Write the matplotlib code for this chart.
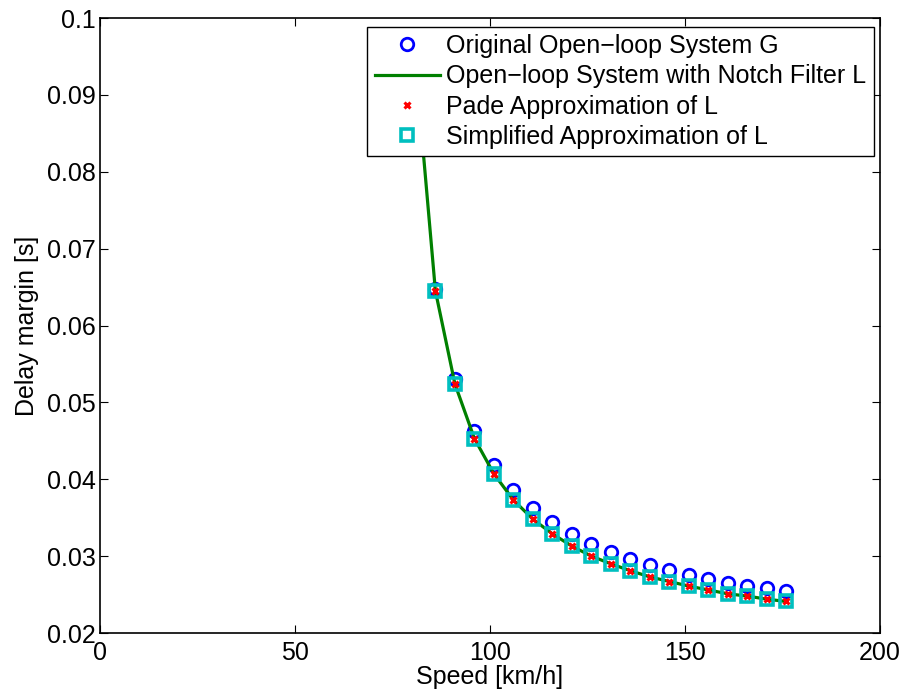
import matplotlib
matplotlib.use("Agg")
import matplotlib.pyplot as plt

plt.rcParams["font.family"] = ["Liberation Sans", "DejaVu Sans"]

# speeds where markers are drawn [km/h]
speed = [86, 91, 96, 101, 106, 111, 116, 121, 126, 131, 136, 141, 146, 151,
         156, 161, 166, 171, 176]

# original open-loop system G
dm_g = [0.0647, 0.0531, 0.0463, 0.0419, 0.0386, 0.0362, 0.0344, 0.0329,
        0.0316, 0.0305, 0.0296, 0.0288, 0.0282, 0.0275, 0.0270, 0.0265,
        0.0261, 0.0258, 0.0255]

# open-loop system with notch filter L (line starts lower, under the legend)
speed_l = [81] + speed
dm_l = [0.0935, 0.0645, 0.0524, 0.0453, 0.0407, 0.0373, 0.0348, 0.0329,
        0.0313, 0.0300, 0.0290, 0.0281, 0.0273, 0.0267, 0.0261, 0.0256,
        0.0251, 0.0248, 0.0244, 0.0241]

# Pade and simplified approximations of L
dm_pade = [0.0645, 0.0524, 0.0453, 0.0407, 0.0373, 0.0348, 0.0329, 0.0313,
           0.0300, 0.0290, 0.0281, 0.0273, 0.0267, 0.0261, 0.0256, 0.0251,
           0.0248, 0.0244, 0.0241]
dm_simp = [0.0645, 0.0524, 0.0453, 0.0407, 0.0373, 0.0348, 0.0329, 0.0313,
           0.0300, 0.0290, 0.0281, 0.0273, 0.0267, 0.0261, 0.0256, 0.0251,
           0.0248, 0.0244, 0.0241]

fig = plt.figure(figsize=(9.05, 6.98), dpi=100)
ax = fig.add_axes([0.1105, 0.0931, 0.8619, 0.8811])

ax.plot(speed, dm_g, "o", color="blue", mfc="none", ms=9, mew=2.0,
        label="Original Open\u2212loop System G", zorder=2)
ax.plot(speed_l, dm_l, "-", color=(0, 0.5, 0), lw=2.3,
        label="Open\u2212loop System with Notch Filter L", zorder=3)
ax.plot(speed, dm_pade, "x", color="red", ms=4, mew=2.2,
        label="Pade Approximation of L", zorder=5)
ax.plot(speed, dm_simp, "s", color=(0, 0.75, 0.75), mfc="none", ms=8, mew=2.6,
        label="Simplified Approximation of L", zorder=4)

ax.set_xlim(0, 200)
ax.set_ylim(0.02, 0.1)
ax.set_xticks([0, 50, 100, 150, 200])
ax.set_yticks([0.02, 0.03, 0.04, 0.05, 0.06, 0.07, 0.08, 0.09, 0.1])
ax.set_yticklabels(["0.02", "0.03", "0.04", "0.05", "0.06", "0.07", "0.08",
                    "0.09", "0.1"])
ax.tick_params(direction="in", top=True, right=True, length=6, width=0.8,
               labelsize=18)
ax.tick_params(axis="x", pad=6)
ax.tick_params(axis="y", pad=3)
for spine in ax.spines.values():
    spine.set_linewidth(1.2)

ax.set_xlabel("Speed [km/h]", fontsize=18, labelpad=0)
ax.set_ylabel("Delay margin [s]", fontsize=18, labelpad=6)

leg = ax.legend(loc="upper right", bbox_to_anchor=(0.992, 0.986), numpoints=1,
                fontsize=18, frameon=True, fancybox=False, framealpha=1.0,
                borderpad=0.3, labelspacing=0.25, handlelength=2.6,
                handletextpad=0.25, borderaxespad=0)
leg.get_frame().set_edgecolor("black")
leg.get_frame().set_linewidth(1.0)
leg.set_zorder(10)

fig.savefig("out.png", dpi=100, facecolor="white")
